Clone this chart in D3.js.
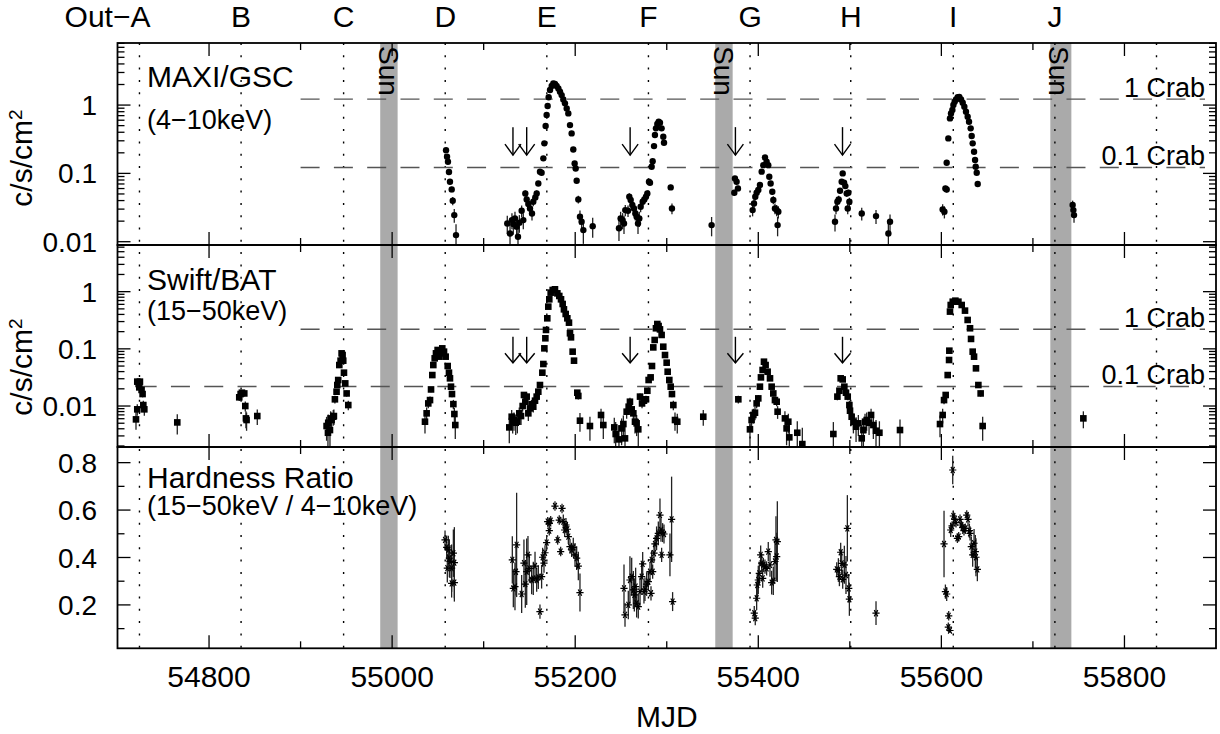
<!DOCTYPE html>
<html>
<head>
<meta charset="utf-8">
<script src="https://cdn.jsdelivr.net/npm/d3@7"></script>
<style>
  body { margin: 0; background: #fff; }
  svg { display: block; font-family: "Liberation Sans", Arial, Helvetica, sans-serif; }
</style>
</head>
<body>
<svg id="chart" width="1220" height="734"></svg>
<script>
// ---- Dados
const epochMjd = [54724, 54835, 54947, 55058, 55169, 55280, 55391, 55501, 55613, 55724, 55835];
const epochLabel = ['Out\u2212A', 'B', 'C', 'D', 'E', 'F', 'G', 'H', 'I', 'J', ''];
const sunStart = [54987, 55353, 55719];
const sunEnd = [55006, 55372, 55742];
const arrowMjd = [55132, 55147, 55260, 55375, 55492];
const crabGsc = 1.22;   // 1 Crab, GSC 4-10 keV
const crabBat = 0.22;   // 1 Crab, BAT 15-50 keV
const errGsc = 0.0055;
const errBat = 0.002;

// MAXI/GSC [MJD, c/s/cm2]
const gscData = [
  [55058.9,0.219],[55060.0,0.175],[55061.0,0.148],[55062.1,0.105],[55063.2,0.0753],[55065.1,0.0583],[55066.2,0.0397],[55067.9,0.0245],[55069.8,0.0125],
  [55125.8,0.0185],[55128.8,0.0132],[55130.9,0.0207],[55132.4,0.0181],[55134.2,0.0219],[55136.0,0.0166],[55137.5,0.0118],[55139.0,0.0190],[55141.5,0.0284],[55143.3,0.0207],
  [55145.5,0.0509],[55147.0,0.0416],[55148.8,0.0356],[55150.6,0.0307],[55152.8,0.0259],[55154.2,0.0385],[55156.4,0.0445],[55157.9,0.0509],[55159.7,0.0713],[55161.5,0.106],
  [55163.3,0.102],[55165.2,0.166],[55166.3,0.275],[55167.7,0.493],[55168.8,0.714],[55169.9,0.968],[55171.0,1.30],[55172.5,1.66],[55174.3,1.90],[55176.1,2.08],
  [55177.9,2.03],[55179.7,1.90],[55181.6,1.75],[55183.4,1.57],[55185.2,1.40],[55187.0,1.21],[55188.8,1.06],[55190.7,0.894],[55192.5,0.755],[55194.3,0.509],
  [55196.1,0.385],[55197.9,0.224],[55199.4,0.140],[55200.5,0.118],[55201.6,0.078],[55203.4,0.0416],[55205.2,0.0232],[55207.0,0.0196],[55208.9,0.0148],[55219.1,0.0169],
  [55247.8,0.0157],[55249.6,0.0219],[55251.8,0.0207],[55253.3,0.0185],[55254.7,0.0290],[55257.7,0.0284],[55259.1,0.0455],[55260.6,0.0407],[55262.4,0.0344],[55264.2,0.0307],
  [55265.7,0.0259],[55267.1,0.0232],[55268.6,0.0185],[55270.0,0.0219],[55271.5,0.0325],[55273.7,0.0385],[55275.5,0.0416],[55277.3,0.0455],[55278.8,0.0509],[55280.6,0.0755],
  [55281.7,0.0730],[55283.5,0.125],[55284.6,0.151],[55286.1,0.251],[55287.1,0.364],[55288.2,0.456],[55289.7,0.527],[55291.2,0.570],[55292.6,0.552],[55294.4,0.456],
  [55296.2,0.344],[55297.0,0.281],[55304.3,0.0624],[55305.7,0.0307],[55349.0,0.0175],
  [55373.8,0.0521],[55374.5,0.0845],[55376.3,0.0755],[55377.8,0.0603],
  [55393.8,0.0290],[55395.3,0.0363],[55396.7,0.0455],[55398.2,0.0521],[55400.0,0.0570],[55401.8,0.0675],[55403.7,0.106],[55405.5,0.132],[55407.3,0.171],[55409.1,0.148],
  [55410.9,0.132],[55412.0,0.0893],[55413.5,0.0713],[55415.3,0.0538],[55416.4,0.0407],[55418.2,0.0307],[55420.1,0.0290],[55421.9,0.0274],[55421.1,0.0175],
  [55483.8,0.0196],[55484.9,0.0307],[55486.4,0.0385],[55487.8,0.0416],[55489.3,0.0557],[55491.1,0.0755],[55492.2,0.100],[55493.7,0.0730],[55495.1,0.0652],[55496.6,0.0509],
  [55498.4,0.0521],[55499.5,0.0385],[55497.7,0.0307],[55513.0,0.0259],[55528.6,0.0237],[55542.1,0.0132],[55543.9,0.0196],
  [55601.4,0.0297],[55603.3,0.0274],[55604.4,0.0603],[55605.8,0.0582],[55605.8,0.143],[55607.6,0.325],[55609.4,0.638],[55610.5,0.755],[55612.0,0.845],[55613.1,1.00],
  [55614.5,1.12],[55616.0,1.21],[55617.8,1.30],[55619.6,1.32],[55621.5,1.21],[55623.3,1.08],[55625.1,0.946],[55626.9,0.798],[55628.7,0.675],[55630.2,0.570],
  [55632.0,0.456],[55633.1,0.352],[55634.2,0.275],[55635.7,0.207],[55636.8,0.157],[55637.5,0.125],[55638.6,0.102],[55639.7,0.0698],
  [55743.4,0.0344],[55744.2,0.0290],[55744.9,0.0245]
];

// Swift/BAT [MJD, c/s/cm2]
const batData = [
  [54720.2,0.00584],[54721.6,0.00875],[54721.6,0.0267],[54723.1,0.0243],[54724.5,0.0267],[54723.8,0.0212],[54726.3,0.0191],[54727.4,0.0162],[54728.2,0.0104],[54729.3,0.00875],
  [54765.3,0.00517],
  [54833.0,0.0142],[54834.5,0.0162],[54835.9,0.0171],[54838.5,0.0166],[54839.6,0.0100],[54840.3,0.00608],[54841.0,0.00569],[54852.7,0.00668],
  [54928.4,0.00447],[54930.2,0.00510],[54929.9,0.00341],[54932.1,0.00380],[54932.8,0.00608],[54933.9,0.00569],[54935.7,0.00650],[54936.4,0.00668],[54937.5,0.0131],[54939.3,0.0178],
  [54940.1,0.0233],[54941.1,0.0285],[54942.3,0.0521],[54943.7,0.0621],[54944.8,0.0834],[54945.9,0.0780],[54946.6,0.0621],[54947.4,0.0383],[54948.8,0.0249],[54950.3,0.0166],[54952.1,0.0104],
  [55035.9,0.00532],[55037.7,0.00745],[55039.5,0.0111],[55041.4,0.0127],[55042.5,0.0195],[55043.9,0.0348],[55045.0,0.0521],[55046.5,0.0682],[55047.9,0.0834],[55049.7,0.0955],
  [55051.6,0.0730],[55053.0,0.0834],[55054.8,0.102],[55056.7,0.0893],[55058.5,0.0730],[55060.7,0.0501],[55062.1,0.0383],[55063.2,0.0305],[55064.3,0.0218],[55065.4,0.0162],
  [55066.9,0.0108],[55068.0,0.00725],[55069.0,0.00465],
  [55128.0,0.00423],[55130.6,0.00650],[55131.7,0.00532],[55133.1,0.00569],[55135.0,0.00510],[55136.8,0.00532],[55138.9,0.00745],[55140.8,0.00668],[55142.6,0.0100],[55144.0,0.0156],
  [55145.5,0.0119],[55147.0,0.0146],[55148.8,0.00745],[55150.6,0.00910],[55152.4,0.0108],[55154.2,0.00973],[55156.1,0.0124],[55157.9,0.0146],[55159.7,0.0178],[55161.5,0.0233],
  [55164.1,0.0383],[55165.2,0.0543],[55166.3,0.102],[55167.4,0.153],[55168.1,0.214],[55169.5,0.342],[55170.6,0.547],[55171.7,0.735],[55173.2,0.961],[55175.4,1.07],
  [55177.9,1.10],[55180.5,0.935],[55182.6,0.841],[55184.5,0.735],[55186.3,0.609],[55187.7,0.491],[55189.6,0.407],[55191.4,0.342],[55193.2,0.287],[55194.3,0.187],
  [55195.4,0.159],[55197.2,0.0893],[55198.7,0.0621],[55202.3,0.0171],[55203.4,0.0150],[55205.2,0.00554],[55216.1,0.00447],[55228.2,0.00697],[55230.7,0.00465],
  [55242.7,0.00423],[55244.2,0.00324],[55247.8,0.00261],[55250.7,0.00406],[55252.6,0.00484],[55254.4,0.00272],[55256.2,0.00796],[55258.4,0.00973],[55259.8,0.0119],[55261.7,0.00875],
  [55263.5,0.00745],[55265.3,0.00532],[55267.1,0.00498],[55268.9,0.00391],[55270.8,0.0146],[55273.0,0.0111],[55275.1,0.0124],[55277.3,0.0131],[55278.8,0.0185],[55280.2,0.0285],
  [55282.4,0.0317],[55283.9,0.0501],[55285.3,0.106],[55286.8,0.143],[55288.2,0.229],[55289.7,0.272],[55291.1,0.251],[55292.6,0.219],[55294.4,0.175],[55296.2,0.109],
  [55298.1,0.0780],[55299.9,0.0573],[55301.0,0.0398],[55302.8,0.0285],[55304.3,0.0218],[55305.7,0.0162],[55307.2,0.0104],[55309.0,0.00569],[55311.5,0.00532],[55339.9,0.00650],
  [55378.2,0.0131],[55390.9,0.00391],[55392.7,0.00569],[55394.6,0.00697],[55396.4,0.00764],[55398.2,0.0111],[55400.0,0.0136],[55401.8,0.0218],[55402.9,0.0317],[55404.7,0.0427],
  [55406.2,0.0596],[55408.0,0.0521],[55410.2,0.0398],[55412.8,0.0305],[55414.6,0.0218],[55416.4,0.0166],[55418.2,0.0127],[55420.1,0.0119],[55421.1,0.00796],[55429.1,0.00608],
  [55430.9,0.00406],[55432.8,0.00532],[55433.9,0.00283],[55442.6,0.00341],[55448.1,0.00216],
  [55482.0,0.00324],[55486.4,0.0146],[55488.6,0.0185],[55490.0,0.0305],[55492.2,0.0292],[55494.0,0.0218],[55495.8,0.0171],[55497.7,0.0146],[55499.5,0.0104],[55500.2,0.00828],
  [55502.0,0.00650],[55503.9,0.00532],[55506.8,0.00435],[55509.3,0.00498],[55513.0,0.00272],[55514.8,0.00380],[55516.6,0.00532],[55518.4,0.00569],[55521.0,0.00510],[55523.2,0.00697],
  [55525.7,0.00465],[55528.6,0.00370],[55532.3,0.00341],[55554.8,0.00380],
  [55598.5,0.00484],[55601.4,0.00697],[55602.9,0.0127],[55604.7,0.0156],[55606.9,0.0348],[55608.4,0.0638],[55608.7,0.0929],[55609.4,0.448],[55610.2,0.585],[55612.4,0.668],
  [55615.3,0.696],[55618.6,0.668],[55622.2,0.585],[55625.8,0.466],[55628.7,0.320],[55631.3,0.229],[55632.4,0.149],[55634.2,0.0893],[55635.7,0.0730],[55637.8,0.0456],
  [55640.4,0.0233],[55642.9,0.0166],[55645.1,0.00447],
  [55755.1,0.00608]
];

// Hardness ratio [MJD, ratio, error]
const hrData = [
  [55057.8,0.474,0.04],[55059.6,0.443,0.05],[55061.4,0.432,0.06],[55062.5,0.397,0.08],[55063.2,0.383,0.07],[55060.3,0.355,0.06],[55065.0,0.355,0.10],[55066.9,0.418,0.10],[55068.0,0.378,0.15],[55065.0,0.291,0.06],[55068.0,0.294,0.08],
  [55131.3,0.390,0.10],[55132.4,0.270,0.08],[55134.2,0.277,0.10],[55136.0,0.453,0.22],[55135.3,0.340,0.10],[55141.5,0.246,0.08],[55144.0,0.376,0.10],[55145.5,0.288,0.10],[55147.0,0.340,0.14],[55148.4,0.411,0.08],
  [55149.9,0.354,0.06],[55152.4,0.305,0.06],[55154.2,0.312,0.07],[55156.1,0.364,0.06],[55157.9,0.305,0.05],[55159.7,0.317,0.05],[55161.5,0.172,0.03],[55163.3,0.319,0.05],[55164.4,0.401,0.04],[55165.9,0.376,0.04],
  [55167.0,0.420,0.03],[55168.8,0.463,0.03],[55169.9,0.551,0.02],[55171.7,0.544,0.02],[55173.2,0.555,0.02],[55171.7,0.513,0.02],[55177.9,0.617,0.02],[55180.8,0.474,0.02],[55182.6,0.558,0.02],[55184.1,0.425,0.02],
  [55185.6,0.607,0.02],[55187.0,0.551,0.03],[55188.5,0.516,0.03],[55189.9,0.537,0.03],[55191.4,0.519,0.03],[55192.5,0.488,0.03],[55194.3,0.446,0.03],[55196.1,0.432,0.03],[55197.9,0.443,0.04],[55199.8,0.411,0.05],
  [55201.6,0.397,0.05],[55203.4,0.364,0.06],[55205.2,0.252,0.08],
  [55253.3,0.270,0.10],[55254.4,0.158,0.05],[55258.0,0.200,0.06],[55259.8,0.305,0.10],[55261.7,0.319,0.08],[55263.5,0.263,0.08],[55264.6,0.242,0.07],[55266.0,0.277,0.08],[55267.1,0.207,0.06],[55268.9,0.193,0.05],
  [55270.8,0.256,0.06],[55272.6,0.319,0.06],[55273.7,0.373,0.05],[55275.1,0.256,0.05],[55276.2,0.266,0.05],[55278.0,0.288,0.05],[55279.9,0.298,0.04],[55281.7,0.340,0.04],[55282.8,0.249,0.03],[55283.5,0.390,0.04],
  [55284.6,0.340,0.03],[55286.1,0.418,0.04],[55287.1,0.457,0.03],[55288.9,0.481,0.05],[55290.8,0.502,0.05],[55292.6,0.579,0.07],[55293.7,0.516,0.05],[55295.5,0.505,0.04],[55297.0,0.499,0.04],[55294.4,0.411,0.03],
  [55303.5,0.411,0.09],[55305.3,0.561,0.18],[55306.4,0.214,0.04],
  [55395.6,0.165,0.03],[55396.7,0.144,0.03],[55398.2,0.228,0.05],[55398.9,0.284,0.05],[55400.0,0.305,0.06],[55401.1,0.333,0.05],[55402.6,0.411,0.04],[55403.7,0.376,0.04],[55405.5,0.369,0.03],[55404.8,0.312,0.04],
  [55407.3,0.361,0.03],[55409.1,0.354,0.03],[55410.9,0.425,0.04],[55412.8,0.369,0.05],[55414.6,0.294,0.05],[55416.4,0.302,0.06],[55418.2,0.383,0.08],[55419.3,0.474,0.10],[55420.8,0.467,0.17],[55420.1,0.404,0.10],
  [55485.7,0.350,0.03],[55487.5,0.347,0.05],[55488.6,0.319,0.04],[55490.0,0.422,0.04],[55491.1,0.375,0.05],[55492.2,0.308,0.04],[55494.0,0.369,0.08],[55495.8,0.326,0.08],[55497.3,0.523,0.14],[55498.8,0.270,0.06],
  [55499.5,0.224,0.07],[55528.6,0.165,0.05],
  [55602.9,0.457,0.14],[55604.4,0.256,0.03],[55605.8,0.246,0.03],[55608.0,0.154,0.02],[55607.6,0.106,0.02],[55609.4,0.092,0.01],[55612.4,0.769,0.06],[55610.2,0.516,0.03],[55611.7,0.533,0.02],[55613.1,0.575,0.02],
  [55614.6,0.561,0.02],[55616.0,0.547,0.02],[55617.5,0.481,0.02],[55618.9,0.488,0.02],[55620.4,0.561,0.02],[55621.8,0.537,0.02],[55623.3,0.527,0.02],[55624.7,0.513,0.02],[55626.2,0.523,0.02],[55627.7,0.579,0.02],
  [55629.1,0.561,0.03],[55630.6,0.513,0.03],[55631.3,0.502,0.03],[55632.7,0.446,0.04],[55634.2,0.411,0.05],[55635.7,0.460,0.06],[55637.1,0.425,0.07],[55637.8,0.401,0.08],[55639.3,0.350,0.05]
];

// ---- Escalas
const svg = d3.select('#chart');
const X0 = 117.5, X1 = 1216;
const TOP = 43, BOTTOM = 648.3;

const x = d3.scaleLinear().domain([54700, 55900]).range([X0, X1]);
const yGsc = d3.scaleLog().domain([0.00895, 8.1]).range([245, 43]);
const yBat = d3.scaleLog().domain([0.00192, 6.55]).range([447, 245]);
const yHr = d3.scaleLinear().domain([0.017, 0.866]).range([BOTTOM, 447]);

const panels = [
  { y: yGsc, top: 43, bottom: 245, log: true },
  { y: yBat, top: 245, bottom: 447, log: true },
  { y: yHr, top: 447, bottom: BOTTOM, log: false }
];

// ---- Faixas do Sol
const gSun = svg.append('g');
gSun.selectAll('rect').data(sunStart).join('rect')
  .attr('x', d => x(d))
  .attr('width', (d, i) => x(sunEnd[i]) - x(d))
  .attr('y', TOP).attr('height', BOTTOM - TOP)
  .attr('fill', '#aaaaaa');
gSun.selectAll('text').data(sunStart).join('text')
  .attr('transform', d => `translate(${x(d) - 1},46) rotate(90)`)
  .style('font-size', '28px')
  .text('Sun');

// ---- Linhas das épocas
svg.append('g').selectAll('line').data(epochMjd).join('line')
  .attr('x1', d => x(d)).attr('x2', d => x(d))
  .attr('y1', TOP).attr('y2', BOTTOM)
  .attr('stroke', '#000').attr('stroke-width', 1.4)
  .attr('stroke-dasharray', '2,10.3');

svg.append('g').selectAll('text').data(epochMjd).join('text')
  .attr('x', (d, i) => i === 0 ? x(d) + 11 : x(d))
  .attr('y', 27)
  .attr('text-anchor', (d, i) => i === 0 ? 'end' : 'middle')
  .style('font-size', '30px')
  .text((d, i) => epochLabel[i]);

// ---- Linhas do Crab
const crabLines = [
  { y: yGsc, v: crabGsc, label: '1 Crab', from: 54900 },
  { y: yGsc, v: crabGsc / 10, label: '0.1 Crab', from: 54900 },
  { y: yBat, v: crabBat, label: '1 Crab', from: 54900 },
  { y: yBat, v: crabBat / 10, label: '0.1 Crab', from: 54722 }
];
const gCrab = svg.append('g');
crabLines.forEach(c => {
  gCrab.append('line')
    .attr('x1', x(c.from)).attr('x2', 1205)
    .attr('y1', c.y(c.v)).attr('y2', c.y(c.v))
    .attr('stroke', '#555').attr('stroke-width', 1.4)
    .attr('stroke-dasharray', '19,14.3');
  gCrab.append('text')
    .attr('x', 1205).attr('y', c.y(c.v) - 2)
    .attr('text-anchor', 'end')
    .style('font-size', '27px')
    .text(c.label);
});

// ---- Setas
const arrows = [
  { y: yGsc, tip: 0.185, len: 28, head: 11 },
  { y: yBat, tip: 0.057, len: 26, head: 9.5 }
];
const gArrow = svg.append('g').attr('stroke', '#000').attr('stroke-width', 1.4).attr('fill', 'none');
arrows.forEach(a => {
  arrowMjd.forEach(m => {
    const ax = x(m), ay = a.y(a.tip);
    gArrow.append('line').attr('x1', ax).attr('x2', ax).attr('y1', ay - a.len).attr('y2', ay);
    gArrow.append('path').attr('d', `M${ax - 8},${ay - a.head}L${ax},${ay}L${ax + 8},${ay - a.head}`);
  });
});

// ---- Pontos
function errLine(g, data, y, err) {
  const lo = y.domain()[0];
  g.selectAll('line.err').data(data).join('line')
    .attr('class', 'err')
    .attr('x1', d => x(d[0])).attr('x2', d => x(d[0]))
    .attr('y1', d => y(d[1] + (d.length > 2 ? d[2] : err)))
    .attr('y2', d => y(Math.max(d[1] - (d.length > 2 ? d[2] : err), lo)))
    .attr('stroke', '#222').attr('stroke-width', 1.3);
}

const gGsc = svg.append('g');
errLine(gGsc, gscData, yGsc, errGsc);
gGsc.selectAll('circle').data(gscData).join('circle')
  .attr('cx', d => x(d[0])).attr('cy', d => yGsc(d[1]))
  .attr('r', 3.2).attr('fill', '#000');

const gBat = svg.append('g');
errLine(gBat, batData, yBat, errBat);
gBat.selectAll('rect').data(batData).join('rect')
  .attr('x', d => x(d[0]) - 3.3).attr('y', d => yBat(d[1]) - 3.3)
  .attr('width', 6.6).attr('height', 6.6).attr('fill', '#000');

const gHr = svg.append('g');
errLine(gHr, hrData, yHr, 0);
const s = 3.6;
gHr.selectAll('path.star').data(hrData).join('path')
  .attr('class', 'star')
  .attr('d', d => {
    const cx = x(d[0]), cy = yHr(d[1]);
    const dx = s * 0.5, dy = s * 0.866;
    return `M${cx - s},${cy}L${cx + s},${cy}` +
      `M${cx - dx},${cy - dy}L${cx + dx},${cy + dy}` +
      `M${cx - dx},${cy + dy}L${cx + dx},${cy - dy}`;
  })
  .attr('stroke', '#000').attr('stroke-width', 1.2).attr('fill', 'none');

// ---- Molduras e ticks
const gAxes = svg.append('g').attr('stroke', '#000');
const xTicks = x.ticks(12).filter(t => t > 54700 && t < 55900);

panels.forEach(p => {
  gAxes.append('rect')
    .attr('x', X0).attr('y', p.top)
    .attr('width', X1 - X0).attr('height', p.bottom - p.top)
    .attr('fill', 'none').attr('stroke-width', 1.8);

  xTicks.forEach(t => {
    const len = t % 200 === 0 ? 13 : 7;
    gAxes.append('line').attr('x1', x(t)).attr('x2', x(t)).attr('y1', p.top).attr('y2', p.top + len).attr('stroke-width', 1.3);
    gAxes.append('line').attr('x1', x(t)).attr('x2', x(t)).attr('y1', p.bottom).attr('y2', p.bottom - len).attr('stroke-width', 1.3);
  });

  const yTicks = p.log ? p.y.ticks() : d3.range(1, 9).map(k => k / 10);
  yTicks.forEach(t => {
    const major = p.log
      ? Math.abs(Math.log10(t) - Math.round(Math.log10(t))) < 1e-6
      : Math.round(t * 10) % 2 === 0;
    const len = major ? 13 : 7;
    const yy = p.y(t);
    gAxes.append('line').attr('x1', X0).attr('x2', X0 + len).attr('y1', yy).attr('y2', yy).attr('stroke-width', 1.3);
    gAxes.append('line').attr('x1', X1).attr('x2', X1 - len).attr('y1', yy).attr('y2', yy).attr('stroke-width', 1.3);
  });
});

// ---- Rótulos dos eixos
const logLabels = [0.01, 0.1, 1];
const hrLabels = [0.2, 0.4, 0.6, 0.8];
const gLab = svg.append('g').style('font-size', '28px').attr('text-anchor', 'end');
[yGsc, yBat].forEach(y => {
  logLabels.forEach(v => {
    gLab.append('text').attr('x', 97).attr('y', y(v)).attr('dy', '0.36em').text(v);
  });
});
hrLabels.forEach(v => {
  gLab.append('text').attr('x', 97).attr('y', yHr(v)).attr('dy', '0.36em').text(v.toFixed(1));
});

svg.append('g').selectAll('text').data(d3.range(54800, 55900, 200)).join('text')
  .attr('x', d => x(d)).attr('y', 687)
  .attr('text-anchor', 'middle')
  .style('font-size', '30px')
  .text(d => d);

svg.append('text')
  .attr('x', x(55300)).attr('y', 727)
  .attr('text-anchor', 'middle')
  .style('font-size', '30px')
  .text('MJD');

[158, 367].forEach(cy => {
  const t = svg.append('text')
    .attr('transform', `translate(32,${cy}) rotate(-90)`)
    .attr('text-anchor', 'middle')
    .style('font-size', '30px');
  t.append('tspan').text('c/s/cm');
  t.append('tspan').attr('dy', '-0.55em').style('font-size', '19px').text('2');
});

// ---- Rótulos dos painéis
const panelText = [
  { t: 'MAXI/GSC', y: 87, size: 30 },
  { t: '(4\u221210keV)', y: 129, size: 27 },
  { t: 'Swift/BAT', y: 290, size: 30 },
  { t: '(15\u221250keV)', y: 320, size: 27 },
  { t: 'Hardness Ratio', y: 488, size: 30 },
  { t: '(15\u221250keV / 4\u221210keV)', y: 515, size: 27 }
];
panelText.forEach(p => {
  svg.append('text').attr('x', 147).attr('y', p.y)
    .style('font-size', p.size + 'px').text(p.t);
});
</script>
</body>
</html>
